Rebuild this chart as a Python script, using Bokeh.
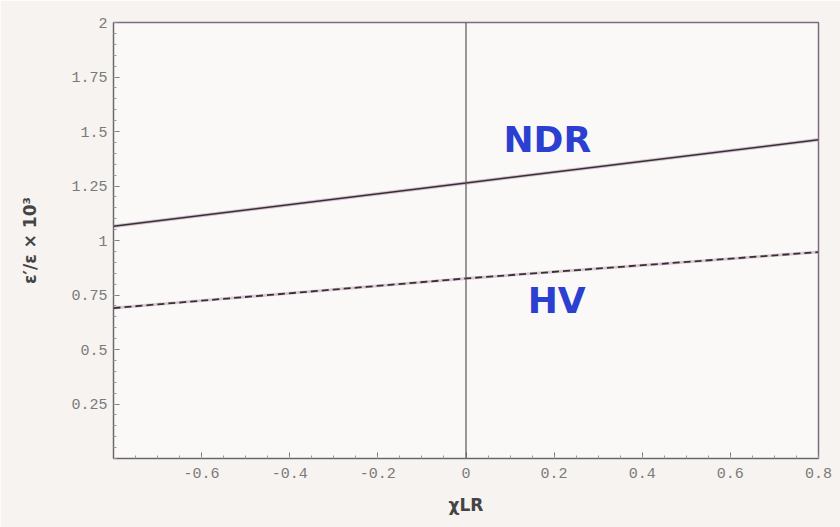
from bokeh.plotting import figure
from bokeh.models import Range1d, FixedTicker, Span, Label
from bokeh.embed import file_html
from bokeh.resources import INLINE

x_pts = [-0.8, 0.0, 0.8]
ndr = [1.065, 1.264, 1.462]
hv = [0.69, 0.826, 0.947]
x_ticks = [-0.6, -0.4, -0.2, 0.0, 0.2, 0.4, 0.6, 0.8]
x_labels = ["-0.6", "-0.4", "-0.2", "0", "0.2", "0.4", "0.6", "0.8"]
y_ticks = [0.25, 0.5, 0.75, 1.0, 1.25, 1.5, 1.75, 2.0]
y_labels = ["0.25", "0.5", "0.75", "1", "1.25", "1.5", "1.75", "2"]

p = figure(width=840, height=527, output_backend="svg", toolbar_location=None,
           x_range=Range1d(-0.8, 0.8), y_range=Range1d(0, 2),
           min_border_left=113, min_border_right=22, min_border_top=22, min_border_bottom=69)
p.background_fill_color = "#fbf9f7"
p.border_fill_color = "#f6f3f0"
p.outline_line_color = "#7d6c80"
p.outline_line_width = 1.5
p.grid.visible = False

for ax in (p.xaxis[0], p.yaxis[0]):
    ax.major_tick_in = 6
    ax.major_tick_out = 0
    ax.minor_tick_in = 3
    ax.minor_tick_out = 0
    ax.axis_line_color = "#666666"
    ax.major_tick_line_color = "#777777"
    ax.minor_tick_line_color = "#999999"
    ax.major_label_text_font = "Liberation Mono"
    ax.major_label_text_font_size = "15px"
    ax.major_label_text_color = "#7a7a7a"

p.xaxis.ticker = FixedTicker(ticks=x_ticks, minor_ticks=[i * 0.05 - 0.8 for i in range(33)])
p.xaxis.major_label_overrides = {t: l for t, l in zip(x_ticks, x_labels)}
p.yaxis.ticker = FixedTicker(ticks=y_ticks, minor_ticks=[i * 0.05 for i in range(41)])
p.yaxis.major_label_overrides = {t: l for t, l in zip(y_ticks, y_labels)}
p.xaxis.major_label_standoff = 9
p.yaxis.major_label_standoff = 6

p.xaxis.axis_label = "χLR"
p.xaxis.axis_label_text_font = "DejaVu Sans"
p.xaxis.axis_label_text_font_style = "bold"
p.xaxis.axis_label_text_font_size = "17px"
p.xaxis.axis_label_text_color = "#444444"
p.xaxis.axis_label_standoff = 14

p.yaxis.axis_label = "ε′/ε × 10³"
p.yaxis.axis_label_text_font = "DejaVu Sans"
p.yaxis.axis_label_text_font_style = "bold"
p.yaxis.axis_label_text_font_size = "17px"
p.yaxis.axis_label_text_color = "#444444"
p.yaxis.axis_label_standoff = 28

p.add_layout(Span(location=0, dimension="height", line_color="#555555", line_width=1.2))

p.line(x_pts, ndr, line_color="#c9a6c0", line_width=3.5, line_alpha=0.7)
p.line(x_pts, ndr, line_color="#333333", line_width=1.6)
p.line(x_pts, hv, line_color="#c9a6c0", line_width=3, line_alpha=0.6)
p.line(x_pts, hv, line_color="#333333", line_width=1.8, line_dash="7 4")

p.add_layout(Label(x=0.085, y=1.37, text="NDR", text_color="#2b3fd0", text_font="DejaVu Sans",
                   text_font_size="36px", text_font_style="bold"))
p.add_layout(Label(x=0.14, y=0.63, text="HV", text_color="#2b3fd0", text_font="DejaVu Sans",
                   text_font_size="36px", text_font_style="bold"))

open("out.html", "w").write(file_html(p, INLINE))
